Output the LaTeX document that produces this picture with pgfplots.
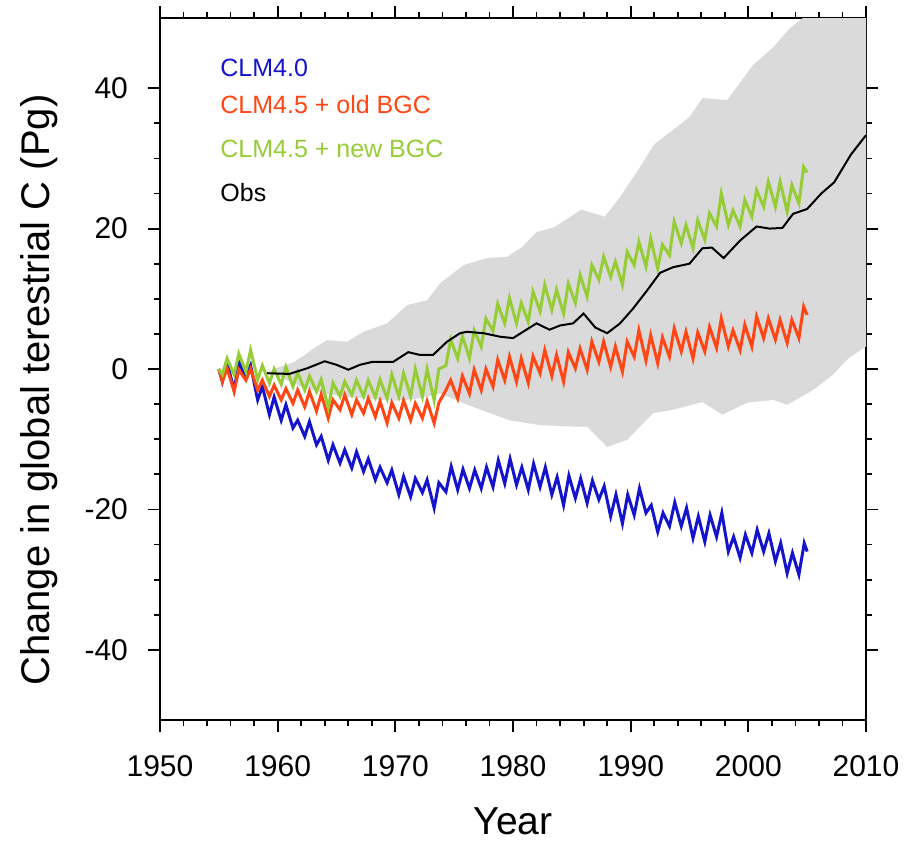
\documentclass[border=0pt]{standalone}
\usepackage{pgfplots}
\pgfplotsset{compat=1.18}
\usepackage{fontspec}
\setmainfont{Liberation Sans}

\definecolor{clmblue}{RGB}{20,20,205}
\definecolor{clmred}{RGB}{255,70,20}
\definecolor{clmgreen}{RGB}{150,205,55}
\definecolor{band}{RGB}{218,218,218}

\begin{document}
\begin{tikzpicture}
\begin{axis}[
    scale only axis,
    width=353pt, height=351pt,
    xmin=1950, xmax=2010,
    ymin=-50, ymax=50,
    xtick={1950,1960,...,2010},
    ytick={-40,-20,0,20,40},
    minor x tick num=4,
    minor y tick num=3,
    tick align=outside,
    major tick length=6pt,
    minor tick length=3pt,
    axis line style={line width=1pt},
    every tick/.style={black, line width=0.9pt},
    /pgf/number format/assume math mode=true,
    /pgf/number format/1000 sep={},
    tick label style={font=\fontsize{15}{18}\selectfont},
    xticklabel style={yshift=-8pt},
    yticklabel style={xshift=-6.5pt},
    xlabel={Year},
    ylabel={Change in global terestrial C (Pg)},
    xlabel style={font=\fontsize{19.5}{23}\selectfont, at={(axis description cs:0.5,-0.163)}, anchor=base},
    ylabel style={font=\fontsize{20}{24}\selectfont, at={(axis description cs:-0.1714,0.470)}, anchor=center, rotate=0},
]

% Obs uncertainty range: upper edge forward, lower edge back
\addplot[fill=band, draw=none] coordinates {
    (1959.1,-0.5)(1960,0.2)(1961.3,0.9)(1962.3,2.0)(1963.3,3.2)(1964.2,4.1)(1965.9,3.9)
    (1967.3,5.3)(1969.3,6.5)(1971,9.1)(1972.7,9.8)(1973.8,12.2)(1975.8,14.8)(1977.8,15.8)
    (1979.5,16.0)(1980.8,17.4)(1982,19.5)(1983.5,20.2)(1985.8,22.7)(1987.8,21.7)(1989.1,24.5)
    (1990.5,28.0)(1992,32.0)(1995,35.9)(1996.1,38.6)(1998.2,38.3)(2000.4,43.3)(2002.1,45.8)
    (2003.5,48.5)(2005,50.5)(2006.5,53)(2010,56)
    (2010,3.2)(2008.5,1.5)(2007.2,-0.8)(2005.5,-3.0)(2003.3,-5.1)(2002.1,-4.4)(1999.9,-4.8)
    (1997.8,-6.5)(1996.1,-4.7)(1993.6,-5.8)(1991.9,-6.3)(1989.7,-10.1)(1988,-11.1)(1986.3,-8.2)
    (1985.1,-8.2)(1982.3,-8.0)(1979.7,-7.3)(1976.6,-5.4)(1973.8,-3.5)(1972,-4.2)(1970,-4.5)
    (1968,-4.3)(1966,-4.0)(1964,-3.5)(1962,-2.5)(1960,-1.0)
} -- cycle;

% CLM4.0
\addplot[clmblue, line width=1.5pt] coordinates {
    (1955,0)(1955.3,-1.8)(1955.7,0.9)(1956.3,-3.0)(1956.7,1.0)(1957.3,-1.2)(1957.7,0.5)
    (1958.3,-4.4)(1958.7,-2.5)(1959.3,-6.5)(1959.7,-4.0)(1960.3,-7.3)(1960.7,-5.1)
    (1961.3,-8.4)(1961.7,-7.3)(1962.3,-9.6)(1962.7,-7.5)(1963.3,-10.8)(1963.7,-9.6)
    (1964.3,-13.0)(1964.7,-10.8)(1965.3,-13.4)(1965.7,-11.5)(1966.3,-14.1)(1966.7,-11.8)
    (1967.3,-14.6)(1967.7,-12.8)(1968.3,-15.8)(1968.7,-14.0)(1969.3,-16.2)(1969.7,-14.4)
    (1970.3,-17.9)(1970.7,-15.3)(1971.3,-18.2)(1971.7,-15.6)(1972.3,-17.6)(1972.7,-15.8)
    (1973.3,-19.8)(1973.7,-16.2)(1974.3,-17.5)(1974.75,-13.9)(1975.3,-17.2)(1975.75,-14.3)
    (1976.3,-17.0)(1976.75,-14.4)(1977.3,-17.0)(1977.75,-14.0)(1978.3,-16.8)(1978.75,-13.0)
    (1979.3,-16.3)(1979.75,-12.8)(1980.3,-16.5)(1980.75,-14.0)(1981.3,-17.2)(1981.75,-13.5)
    (1982.3,-16.8)(1982.75,-14.0)(1983.3,-17.9)(1983.75,-15.4)(1984.3,-19.4)(1984.75,-15.2)
    (1985.3,-18.4)(1985.75,-15.6)(1986.3,-19.1)(1986.75,-15.9)(1987.3,-18.6)(1987.75,-16.7)
    (1988.3,-21.0)(1988.75,-17.9)(1989.3,-22.0)(1989.75,-17.9)(1990.3,-20.8)(1990.75,-17.0)
    (1991.3,-20.5)(1991.75,-19.4)(1992.3,-23.2)(1992.75,-20.5)(1993.3,-22.4)(1993.75,-19.0)
    (1994.3,-22.4)(1994.75,-19.8)(1995.3,-24.1)(1995.75,-21.0)(1996.3,-24.6)(1996.75,-20.8)
    (1997.3,-23.9)(1997.75,-20.5)(1998.3,-26.0)(1998.75,-23.9)(1999.3,-26.9)(1999.75,-23.6)
    (2000.3,-26.2)(2000.75,-22.9)(2001.3,-26.0)(2001.75,-23.4)(2002.3,-27.4)(2002.75,-24.8)
    (2003.3,-29.1)(2003.75,-26.2)(2004.3,-29.3)(2004.75,-24.8)(2005,-26.0)
};

% CLM4.5 + old BGC
\addplot[clmred, line width=1.5pt] coordinates {
    (1955,0)(1955.3,-1.8)(1955.7,0.1)(1956.3,-3.2)(1956.7,-0.1)(1957.3,-1.6)(1957.7,0.0)
    (1958.3,-3.0)(1958.7,-1.6)(1959.3,-3.9)(1959.7,-2.3)(1960.3,-4.4)(1960.7,-2.8)
    (1961.3,-4.9)(1961.7,-3.0)(1962.3,-5.4)(1962.7,-3.2)(1963.3,-6.0)(1963.7,-3.6)
    (1964.3,-7.0)(1964.7,-4.4)(1965.3,-5.8)(1965.7,-3.7)(1966.3,-6.5)(1966.7,-4.4)
    (1967.3,-6.3)(1967.7,-4.2)(1968.3,-6.8)(1968.7,-4.6)(1969.3,-7.7)(1969.7,-4.8)
    (1970.3,-7.0)(1970.7,-4.5)(1971.3,-7.3)(1971.7,-4.9)(1972.3,-7.0)(1972.7,-4.6)
    (1973.3,-7.7)(1973.7,-4.8)(1974.3,-3.0)(1974.7,-1.6)(1975.3,-4.2)(1975.7,-1.0)
    (1976.3,-3.5)(1976.7,-0.1)(1977.3,-3.0)(1977.7,0.0)(1978.3,-2.5)(1978.7,1.3)
    (1979.3,-1.6)(1979.7,1.75)(1980.3,-1.8)(1980.7,1.5)(1981.3,-2.0)(1981.7,1.8)
    (1982.3,-0.6)(1982.7,2.7)(1983.3,-1.0)(1983.7,2.0)(1984.3,-1.8)(1984.7,2.4)
    (1985.3,0.1)(1985.7,2.9)(1986.3,-0.1)(1986.7,3.9)(1987.3,1.0)(1987.7,3.9)
    (1988.3,0.3)(1988.7,3.2)(1989.3,-0.4)(1989.7,3.9)(1990.3,1.75)(1990.7,5.5)
    (1991.3,1.2)(1991.7,4.8)(1992.3,0.8)(1992.7,4.5)(1993.3,1.75)(1993.7,5.8)
    (1994.3,2.5)(1994.7,5.3)(1995.3,1.5)(1995.7,5.2)(1996.3,2.5)(1996.7,6.0)
    (1997.3,3.0)(1997.7,7.2)(1998.3,3.2)(1998.7,5.5)(1999.3,2.7)(1999.7,6.3)
    (2000.3,3.2)(2000.7,7.5)(2001.3,4.4)(2001.7,7.2)(2002.3,4.2)(2002.7,7.0)
    (2003.3,3.7)(2003.7,7.0)(2004.3,4.4)(2004.7,8.9)(2005,7.7)
};

% CLM4.5 + new BGC
\addplot[clmgreen, line width=1.5pt] coordinates {
    (1955,0)(1955.3,-0.8)(1955.7,1.5)(1956.3,-0.8)(1956.7,2.2)(1957.3,-0.4)(1957.7,2.7)
    (1958.3,-1.5)(1958.7,0.5)(1959.3,-2.0)(1959.7,0.0)(1960.3,-2.2)(1960.7,0.3)
    (1961.3,-2.5)(1961.7,-0.5)(1962.3,-3.0)(1962.7,-1.0)(1963.3,-3.2)(1963.7,-1.5)
    (1964.3,-5.5)(1964.7,-2.0)(1965.3,-3.9)(1965.7,-1.8)(1966.3,-3.7)(1966.7,-1.6)
    (1967.3,-3.9)(1967.7,-1.6)(1968.3,-4.0)(1968.7,-1.5)(1969.3,-4.2)(1969.7,-0.8)
    (1970.3,-3.9)(1970.7,-0.6)(1971.3,-3.9)(1971.7,0.0)(1972.3,-3.9)(1972.7,0.0)
    (1973.3,-4.5)(1973.7,0.0)(1974.3,0.5)(1974.7,4.2)(1975.3,1.5)(1975.7,4.7)
    (1976.3,1.5)(1976.7,5.5)(1977.3,3.2)(1977.7,7.2)(1978.3,5.4)(1978.7,9.3)
    (1979.3,6.5)(1979.7,10.1)(1980.3,6.5)(1980.7,9.4)(1981.3,6.7)(1981.7,11.0)
    (1982.3,8.2)(1982.7,12.0)(1983.3,8.4)(1983.7,11.3)(1984.3,7.9)(1984.7,12.2)
    (1985.3,9.4)(1985.7,13.4)(1986.3,10.3)(1986.7,14.8)(1987.3,12.7)(1987.7,16.0)
    (1988.3,13.1)(1988.7,15.3)(1989.3,12.0)(1989.7,16.7)(1990.3,14.8)(1990.7,18.1)
    (1991.3,14.6)(1991.7,18.6)(1992.3,14.3)(1992.7,17.7)(1993.3,16.2)(1993.7,21.0)
    (1994.3,17.9)(1994.7,20.5)(1995.3,17.2)(1995.7,21.2)(1996.3,18.4)(1996.7,22.2)
    (1997.3,20.3)(1997.7,25.0)(1998.3,20.5)(1998.7,22.6)(1999.3,20.3)(1999.7,24.1)
    (2000.3,21.7)(2000.7,25.5)(2001.3,23.1)(2001.7,26.7)(2002.3,23.1)(2002.7,26.7)
    (2003.3,22.4)(2003.7,26.2)(2004.3,23.6)(2004.7,28.8)(2005,28.0)
};

% Obs
\addplot[black, line width=1pt] coordinates {
    (1959.1,-0.6)(1961,-0.7)(1962.5,0.1)(1964,1.1)(1965,0.6)(1966,-0.1)(1967,0.6)
    (1968,1.0)(1969.8,1.0)(1971.1,2.4)(1972.1,2.0)(1973.2,2.0)(1974.4,3.9)(1975.5,5.1)
    (1976.1,5.3)(1977.5,5.1)(1978.9,4.6)(1980,4.4)(1982,6.5)(1983.1,5.6)(1984,6.2)
    (1985.1,6.5)(1986,7.9)(1987,5.9)(1988,5.1)(1989.1,6.5)(1990.2,8.6)(1991.4,11.2)
    (1992.5,13.7)(1993.6,14.5)(1995,15.0)(1996.1,17.2)(1996.9,17.3)(1997.9,15.8)
    (1999.3,18.3)(2000.7,20.3)(2001.8,20.0)(2002.9,20.1)(2003.8,22.1)(2005,22.8)
    (2006.2,25.0)(2007.3,26.6)(2008.7,30.5)(2009.3,31.8)(2010,33.3)
};

\node[anchor=west, inner sep=0pt, text=clmblue, font=\fontsize{12.5}{15}\selectfont] at (axis cs:1955.1,42.9) {CLM4.0};
\node[anchor=west, inner sep=0pt, text=clmred, font=\fontsize{12.5}{15}\selectfont] at (axis cs:1955.1,37.7) {CLM4.5 + old BGC};
\node[anchor=west, inner sep=0pt, text=clmgreen, font=\fontsize{12.5}{15}\selectfont] at (axis cs:1955.1,31.4) {CLM4.5 + new BGC};
\node[anchor=west, inner sep=0pt, text=black, font=\fontsize{12.5}{15}\selectfont] at (axis cs:1955.1,25.1) {Obs};

\coordinate (o) at (rel axis cs:0,0);
\end{axis}
\pgfresetboundingbox
\path (o) ++(-80pt,-61pt) rectangle ++(458pt,421pt);
\end{tikzpicture}
\end{document}
